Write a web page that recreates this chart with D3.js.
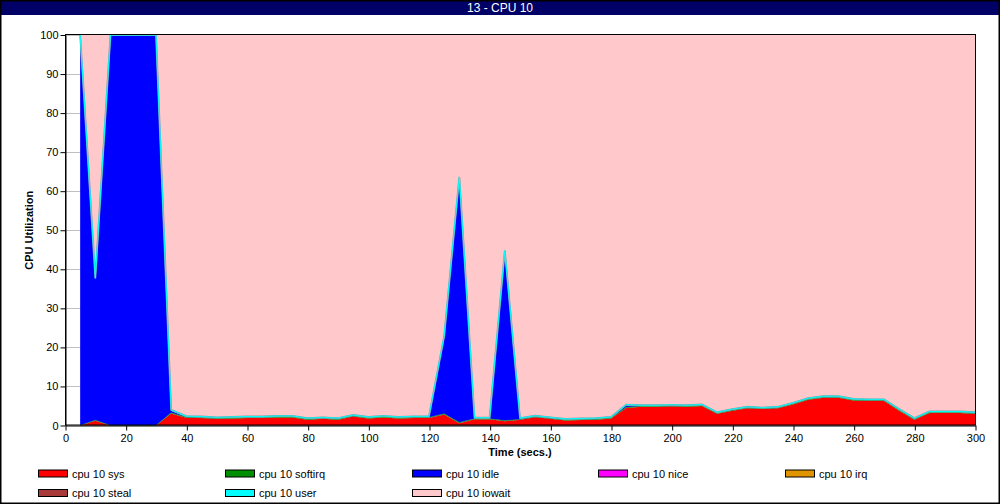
<!DOCTYPE html>
<html>
<head>
<meta charset="utf-8">
<script src="https://cdn.jsdelivr.net/npm/d3@7"></script>
<style>
html,body{margin:0;padding:0;background:#fff;}
svg{display:block;font-family:"Liberation Sans",Arial,sans-serif;}
</style>
</head>
<body>
<svg id="chart" width="1000" height="504"></svg>
<script>
const title = "13 - CPU 10";
const xLabel = "Time (secs.)";
const yLabel = "CPU Utilization";
const xTicks = [0,20,40,60,80,100,120,140,160,180,200,220,240,260,280,300];
const yTicks = [0,10,20,30,40,50,60,70,80,90,100];

const times = [5,10,15,20,25,30,35,40,45,50,55,60,65,70,75,80,85,90,95,100,105,110,115,120,125,130,135,140,145,150,155,160,165,170,175,180,185,190,195,200,205,210,215,220,225,230,235,240,245,250,255,260,265,270,275,280,285,290,295,300];

const sys = [0,1.2,0,0,0,0,3.1,2.0,1.9,1.7,1.8,1.9,1.9,2.05,2.05,1.5,1.7,1.5,2.3,1.8,2.05,1.8,1.95,1.95,2.8,0.6,1.6,1.6,1.1,1.45,2.1,1.7,1.3,1.4,1.5,1.8,4.5,4.8,4.8,4.9,4.8,5.0,3.0,3.8,4.4,4.2,4.4,5.4,6.6,7.1,7.1,6.4,6.3,6.3,3.8,1.5,3.2,3.2,3.2,3.0];
const softirq = [0,0.15,0,0,0,0,0.15,0.1,0.1,0.1,0.1,0.1,0.1,0.1,0.1,0.1,0.1,0.1,0.1,0.1,0.1,0.1,0.1,0.1,0.2,0.2,0.1,0.1,0.15,0.1,0.1,0.1,0.1,0.1,0.1,0.1,0.2,0.1,0.1,0.1,0.1,0.1,0.1,0.1,0.1,0.1,0.1,0.1,0.1,0.1,0.1,0.1,0.1,0.1,0.1,0.1,0.1,0.1,0.1,0.1];
const idle = [99.8,36.1,99.8,100,100,99.8,0.5,0.05,0.05,0.05,0.05,0.05,0.05,0.05,0.05,0.05,0.05,0.05,0.05,0.05,0.05,0.05,0.05,0.05,19.6,62.6,0.05,0.05,43.3,0.1,0.05,0.05,0.05,0.05,0.05,0.05,0.4,0.05,0.05,0.05,0.05,0.05,0.05,0.05,0.05,0.05,0.05,0.05,0.05,0.05,0.05,0.05,0.05,0.05,0.05,0.05,0.05,0.05,0.05,0.05];
const nice = [0,0,0,0,0,0,0,0,0,0,0,0,0,0,0,0,0,0,0,0,0,0,0,0,0,0,0,0,0,0,0,0,0,0,0,0,0,0,0,0,0,0,0,0,0,0,0,0,0,0,0,0,0,0,0,0,0,0,0,0];
const irq = [0,0,0,0,0,0,0,0,0,0,0,0,0,0,0,0,0,0,0,0,0,0,0,0,0,0,0,0,0,0,0,0,0,0,0,0,0,0,0,0,0,0,0,0,0,0,0,0,0,0,0,0,0,0,0,0,0,0,0,0];
const steal = [0,0,0,0,0,0,0,0,0,0,0,0,0,0,0,0,0,0,0,0,0,0,0,0,0,0,0,0,0,0,0,0,0,0,0,0,0,0,0,0,0,0,0,0,0,0,0,0,0,0,0,0,0,0,0,0,0,0,0,0];
const user = [0.2,0.25,0.2,0,0,0.2,0.25,0.25,0.25,0.25,0.25,0.25,0.25,0.25,0.25,0.25,0.25,0.25,0.25,0.25,0.25,0.25,0.25,0.25,0.25,0.25,0.25,0.25,0.25,0.25,0.25,0.25,0.25,0.25,0.25,0.25,0.25,0.25,0.25,0.25,0.25,0.25,0.25,0.25,0.25,0.25,0.25,0.25,0.25,0.25,0.25,0.25,0.25,0.25,0.25,0.25,0.25,0.25,0.25,0.25];
const iowait = [0,62.3,0,0,0,0,96.0,97.6,97.7,97.9,97.8,97.7,97.7,97.55,97.55,98.1,97.9,98.1,97.3,97.8,97.55,97.8,97.65,97.65,77.15,36.35,98.0,98.0,55.2,98.1,97.5,97.9,98.3,98.2,98.1,97.8,94.65,94.8,94.8,94.7,94.8,94.6,96.6,95.8,95.2,95.4,95.2,94.2,93.0,92.5,92.5,93.2,93.3,93.3,95.8,98.1,96.4,96.4,96.4,96.6];

const seriesNames = ["cpu 10 sys","cpu 10 softirq","cpu 10 idle","cpu 10 nice","cpu 10 irq","cpu 10 steal","cpu 10 user","cpu 10 iowait"];
const seriesColors = ["#ff0000","#008f00","#0000ff","#ff00ff","#e09400","#a83a3a","#00ffff","#ffc8cb"];
const seriesData = [sys,softirq,idle,nice,irq,steal,user,iowait];
const legendOrder = ["cpu 10 sys","cpu 10 softirq","cpu 10 idle","cpu 10 nice","cpu 10 irq","cpu 10 steal","cpu 10 user","cpu 10 iowait"];

const svg = d3.select("#chart");
const W = 1000, H = 504;
const m = {left:65, right:975, top:35, bottom:425.5};

// background & border
svg.append("rect").attr("x",0).attr("y",0).attr("width",W).attr("height",H).attr("fill","#fff");
svg.append("rect").attr("x",0).attr("y",0).attr("width",W).attr("height",15).attr("fill","#000066");
svg.append("text").attr("x",500).attr("y",12).attr("text-anchor","middle")
  .attr("fill","#fff").attr("font-size",12).text(title);

const x = d3.scaleLinear().domain([0,300]).range([m.left, m.right]);
const y = d3.scaleLinear().domain([0,100]).range([m.bottom, m.top]);

// grid
svg.append("g").selectAll("line").data(yTicks.slice(1)).join("line")
  .attr("x1",m.left).attr("x2",m.right)
  .attr("y1",d=>Math.round(y(d))+0.5).attr("y2",d=>Math.round(y(d))+0.5)
  .attr("stroke","#c0c0c0").attr("stroke-width",1);

// stacked data
const rows = times.map((t,i)=>{
  const r = {t};
  seriesNames.forEach((n,k)=>{ r[n] = seriesData[k][i]; });
  return r;
});
const stack = d3.stack().keys(seriesNames).order(d3.stackOrderNone).offset(d3.stackOffsetNone);
const layers = stack(rows);

const area = d3.area()
  .x(d=>x(d.data.t))
  .y0(d=>y(d[0]))
  .y1(d=>y(Math.min(100,d[1])));

svg.append("g").selectAll("path").data(layers).join("path")
  .attr("d",area)
  .attr("fill",(d,i)=>seriesColors[i])
  .attr("stroke","none");

// thin edge lines on top of the user layer (cyan) and softirq (green)
const topLine = d3.line().x(d=>x(d.data.t)).y(d=>y(Math.min(100,d[1])));
svg.append("path").datum(layers[1]).attr("d",topLine)
  .attr("fill","none").attr("stroke","#2a8a2a").attr("stroke-width",0.8).attr("stroke-opacity",0.7);
svg.append("path").datum(layers[6]).attr("d",topLine)
  .attr("fill","none").attr("stroke","#7aa0a8").attr("stroke-width",1.8);
svg.append("path").datum(layers[6]).attr("d",topLine)
  .attr("fill","none").attr("stroke","#00ffff").attr("stroke-width",1);

// plot border
svg.append("rect").attr("x",m.left+0.5).attr("y",m.top-0.5)
  .attr("width",m.right-m.left).attr("height",m.bottom-m.top)
  .attr("fill","none").attr("stroke","#000").attr("stroke-width",1);

// axes
const xAxis = d3.axisBottom(x).tickValues(xTicks).tickSize(5).tickSizeOuter(0);
const gx = svg.append("g").attr("transform",`translate(0.5,${m.bottom})`).call(xAxis);
const yAxis = d3.axisLeft(y).tickValues(yTicks).tickSize(5).tickSizeOuter(0);
const gy = svg.append("g").attr("transform",`translate(${m.left+0.5},0)`).call(yAxis);
[gx,gy].forEach(g=>{
  g.select(".domain").attr("stroke","#000");
  g.selectAll(".tick line").attr("stroke","#000");
  g.selectAll(".tick text").attr("fill","#000").attr("font-size",11)
    .attr("font-family","'Liberation Sans',Arial,sans-serif");
});
gx.selectAll(".tick text").attr("dy","0.95em").attr("y",6);
gy.selectAll(".tick text").attr("x",-7);

svg.append("text").attr("x",(m.left+m.right)/2).attr("y",456)
  .attr("text-anchor","middle").attr("font-size",11).attr("font-weight","bold").text(xLabel);
svg.append("text").attr("transform",`translate(33,${(m.top+m.bottom)/2}) rotate(-90)`)
  .attr("text-anchor","middle").attr("font-size",11).attr("font-weight","bold").text(yLabel);

// legend
const legCols = [38,225,412,598,785];
const legRows = [469.5,489];
const leg = svg.append("g");
legendOrder.forEach((name,i)=>{
  const k = seriesNames.indexOf(name);
  const cx = legCols[i%5], cy = legRows[Math.floor(i/5)];
  leg.append("rect").attr("x",cx+0.5).attr("y",cy+0.5).attr("width",29).attr("height",7)
    .attr("fill",seriesColors[k]).attr("stroke","#000").attr("stroke-width",1);
  leg.append("text").attr("x",cx+34).attr("y",cy+8).attr("font-size",11).attr("fill","#000").text(name);
});

// outer border
svg.append("rect").attr("x",0.75).attr("y",0.75).attr("width",W-1.5).attr("height",H-1.5)
  .attr("fill","none").attr("stroke","#000").attr("stroke-width",1.5);
</script>
</body>
</html>
